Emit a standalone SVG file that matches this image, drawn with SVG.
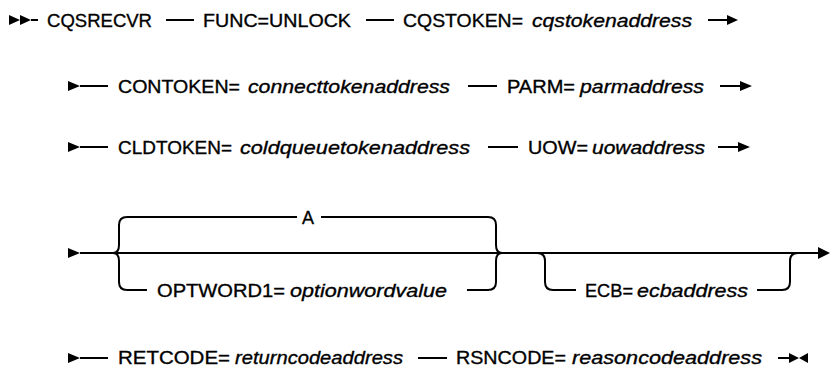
<svg xmlns="http://www.w3.org/2000/svg" width="830" height="368" viewBox="0 0 830 368">
<style>
.t{font-family:"Liberation Sans",Arial,sans-serif;font-size:19px;fill:#000;stroke:#000;stroke-width:0.35}
.v{font-style:italic}
.c{fill:none;stroke:#000;stroke-width:2}
.h{fill:#000;stroke:none}
</style>
<rect width="830" height="368" fill="#fff"/>
<g id="connectors">
<path class="c" d="M31,20H38 M166,20H194 M366,20H394 M708,20H729"/>
<path class="h" d="M9,15L20,20L9,25Z M20,15L31,20L20,25Z M727,15L738,20L727,25Z"/>
<path class="c" d="M80,86H108 M468,86H497 M720,86H741"/>
<path class="h" d="M68,81L80,86L68,91Z M740,81L752,86L740,91Z"/>
<path class="c" d="M80,147H108 M488,147H518 M718,147H739"/>
<path class="h" d="M68,142L80,147L68,152Z M738,142L750,147L738,152Z"/>
<path class="c" d="M80,253H821"/>
<path class="h" d="M68,248L80,253L68,258Z M818,247L830,253L818,259Z"/>
<path class="c" d="M113,253Q119,253 119,245V225Q119,217 127,217H297 M321,217H488Q496,217 496,225V245Q496,253 502,253"/>
<path class="c" d="M113,253Q119,253 119,261V282Q119,290 127,290H147 M467,290H488Q496,290 496,282V261Q496,253 502,253"/>
<path class="c" d="M537,253Q545,253 545,261V282Q545,290 553,290H576 M757,290H782Q790,290 790,282V261Q790,253 798,253"/>
<path class="c" d="M80,358H108 M418,358H447 M778,358H790"/>
<path class="h" d="M68,353L80,358L68,363Z M789,353L799,358L789,363Z M808,353L799,358L808,363Z"/>
</g>
<g id="n-cqsrecvr"><text class="t" x="47" y="27" textLength="105" lengthAdjust="spacingAndGlyphs">CQSRECVR</text></g>
<g id="n-func"><text class="t" x="203" y="27" textLength="148" lengthAdjust="spacingAndGlyphs">FUNC=UNLOCK</text></g>
<g id="n-cqstoken"><text class="t" x="403" y="27" textLength="120" lengthAdjust="spacingAndGlyphs">CQSTOKEN=</text><text class="t v" x="532" y="27" textLength="160" lengthAdjust="spacingAndGlyphs">cqstokenaddress</text></g>
<g id="n-contoken"><text class="t" x="118" y="93" textLength="122" lengthAdjust="spacingAndGlyphs">CONTOKEN=</text><text class="t v" x="248" y="93" textLength="202" lengthAdjust="spacingAndGlyphs">connecttokenaddress</text></g>
<g id="n-parm"><text class="t" x="507" y="93" textLength="68" lengthAdjust="spacingAndGlyphs">PARM=</text><text class="t v" x="580" y="93" textLength="124" lengthAdjust="spacingAndGlyphs">parmaddress</text></g>
<g id="n-cldtoken"><text class="t" x="118" y="154" textLength="114" lengthAdjust="spacingAndGlyphs">CLDTOKEN=</text><text class="t v" x="240" y="154" textLength="230" lengthAdjust="spacingAndGlyphs">coldqueuetokenaddress</text></g>
<g id="n-uow"><text class="t" x="528" y="154" textLength="60" lengthAdjust="spacingAndGlyphs">UOW=</text><text class="t v" x="592" y="154" textLength="113" lengthAdjust="spacingAndGlyphs">uowaddress</text></g>
<g id="n-a"><text class="t" x="302" y="224" textLength="12" lengthAdjust="spacingAndGlyphs">A</text></g>
<g id="n-optword1"><text class="t" x="157" y="297" textLength="128" lengthAdjust="spacingAndGlyphs">OPTWORD1=</text><text class="t v" x="290" y="297" textLength="157" lengthAdjust="spacingAndGlyphs">optionwordvalue</text></g>
<g id="n-ecb"><text class="t" x="585" y="297" textLength="48" lengthAdjust="spacingAndGlyphs">ECB=</text><text class="t v" x="637" y="297" textLength="111" lengthAdjust="spacingAndGlyphs">ecbaddress</text></g>
<g id="n-retcode"><text class="t" x="118" y="364" textLength="112" lengthAdjust="spacingAndGlyphs">RETCODE=</text><text class="t v" x="235" y="364" textLength="168" lengthAdjust="spacingAndGlyphs">returncodeaddress</text></g>
<g id="n-rsncode"><text class="t" x="456" y="364" textLength="110" lengthAdjust="spacingAndGlyphs">RSNCODE=</text><text class="t v" x="572" y="364" textLength="190" lengthAdjust="spacingAndGlyphs">reasoncodeaddress</text></g>
</svg>
